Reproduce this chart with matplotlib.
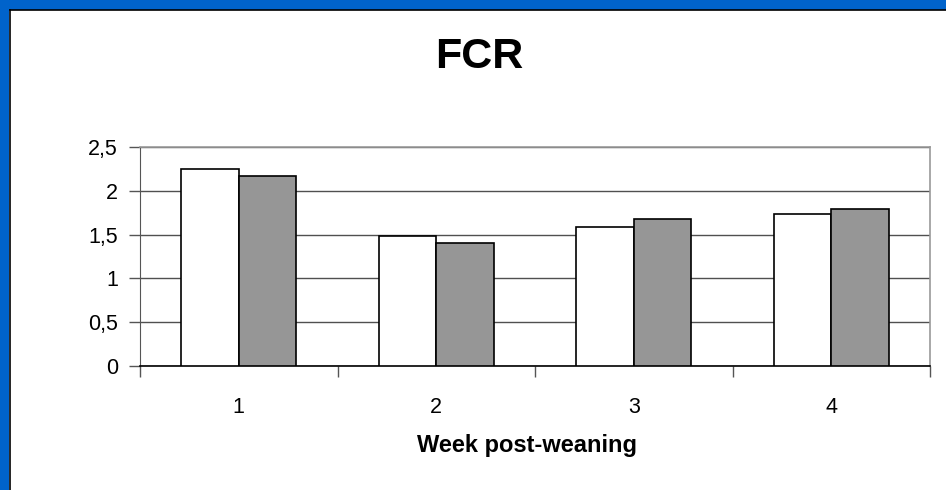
import matplotlib
matplotlib.use("Agg")
import matplotlib.pyplot as plt
from matplotlib.patches import Rectangle
from matplotlib.lines import Line2D
import numpy as np

plt.rcParams["font.family"] = ["Liberation Sans", "DejaVu Sans"]

# FCR per week after weaning, two groups
weeks = ["1", "2", "3", "4"]
group_a = [2.25, 1.48, 1.59, 1.74]
group_b = [2.17, 1.40, 1.68, 1.79]
y_ticks = [0, 0.5, 1, 1.5, 2, 2.5]
y_labels = ["0", "0,5", "1", "1,5", "2", "2,5"]

W, H = 946, 490
fig = plt.figure(figsize=(W / 100, H / 100), dpi=100)
fig.patch.set_facecolor("white")

# blue frame on the left and top edge, with a thin black inner line
blue = "#0063CB"
fig.patches.append(Rectangle((0, 0), 9 / W, 1, transform=fig.transFigure,
                             facecolor=blue, edgecolor="none", zorder=0))
fig.patches.append(Rectangle((0, 1 - 10 / H), 1, 10 / H, transform=fig.transFigure,
                             facecolor=blue, edgecolor="none", zorder=0))
fig.lines.append(Line2D([9.5 / W, 9.5 / W], [0, 1 - 10 / H], transform=fig.transFigure,
                        color="black", lw=1.2))
fig.lines.append(Line2D([9.5 / W, 1], [1 - 10.5 / H, 1 - 10.5 / H], transform=fig.transFigure,
                        color="black", lw=1.2))

ax = fig.add_axes([140 / W, 1 - 366 / H, 790 / W, 219 / H])
x = np.arange(len(weeks))
bw = 0.29
ax.bar(x - bw / 2, group_a, bw, color="white", edgecolor="black", linewidth=1.2, zorder=3)
ax.bar(x + bw / 2, group_b, bw, color="#969696", edgecolor="black", linewidth=1.2, zorder=3)

ax.set_xlim(-0.5, len(weeks) - 0.5)
ax.set_ylim(0, 2.5)
ax.set_yticks(y_ticks)
ax.set_yticklabels(y_labels, fontsize=15.5)
ax.set_xticks(x)
ax.set_xticklabels(weeks, fontsize=15.5)
ax.set_xticks(np.arange(-0.5, len(weeks)), minor=True)
ax.tick_params(axis="x", which="major", length=0, pad=22)
ax.tick_params(axis="x", which="minor", length=8, width=1, color="#555555", direction="out")
ax.tick_params(axis="y", length=8, width=1, color="#555555", pad=8)

ax.grid(axis="y", color="#505050", linewidth=1, zorder=0)
ax.set_axisbelow(True)
for side in ["top", "right"]:
    ax.spines[side].set_color("#999999")
    ax.spines[side].set_linewidth(1.2)
ax.spines["left"].set_color("#555555")
ax.spines["bottom"].set_color("black")
ax.spines["bottom"].set_linewidth(1.2)

fig.text(479 / W, 1 - 57 / H, "FCR", fontsize=31, fontweight="bold",
         ha="center", va="center")
fig.text(527 / W, 1 - 445 / H, "Week post-weaning", fontsize=17, fontweight="bold",
         ha="center", va="center")

fig.savefig("out.png", dpi=100, facecolor=fig.get_facecolor())
